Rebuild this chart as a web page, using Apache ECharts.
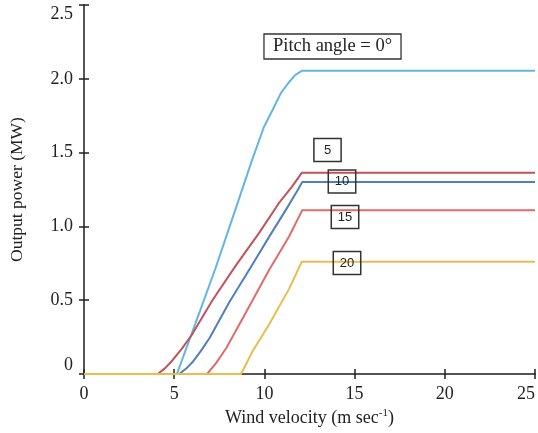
<!DOCTYPE html>
<html>
<head>
<meta charset="utf-8">
<script src="https://cdn.jsdelivr.net/npm/echarts@6/dist/echarts.min.js"></script>
<style>
html,body{margin:0;padding:0;background:#fff;}
#chart{width:538px;height:433px;}
</style>
</head>
<body>
<div id="chart"></div>
<script>
// ---- data (wind velocity in m/s, output power in MW) ----
const pitch0X  = [0, 5.15, 6.2,  7.3,  8.33, 9.32, 9.98, 10.5, 10.92, 11.35, 11.7, 12.07, 25];
const pitch0Y  = [0, 0,    0.35, 0.72, 1.092, 1.451, 1.675, 1.80, 1.905, 1.975, 2.025, 2.054, 2.054];
const pitch5X  = [0, 4.09, 4.5,  4.92, 5.45, 5.97, 7.12, 8.44, 9.71, 10.81, 11.52, 12.07, 25];
const pitch5Y  = [0, 0,    0.04, 0.095, 0.175, 0.264, 0.50, 0.739, 0.956, 1.159, 1.268, 1.363, 1.363];
const pitch10X = [0, 5.28, 5.65, 6.02, 6.5,  6.96, 8.06, 9.32, 10.26, 11.19, 11.80, 12.1, 25];
const pitch10Y = [0, 0,    0.035, 0.081, 0.16, 0.244, 0.488, 0.739, 0.929, 1.112, 1.237, 1.30, 1.30];
const pitch15X = [0, 6.82, 7.3,  7.89, 8.99, 10.26, 11.36, 12.1, 25];
const pitch15Y = [0, 0,    0.07, 0.176, 0.42, 0.705, 0.93, 1.11, 1.11];
const pitch20X = [0, 8.7,  9.0,  9.32, 10.26, 11.36, 12.07, 25];
const pitch20Y = [0, 0,    0.07, 0.149, 0.335, 0.575, 0.76, 0.76];

const seriesNames = ['0', '5', '10', '15', '20'];
const xTicks = [0, 5, 10, 15, 20, 25];
const yTicks = [0, 0.5, 1.0, 1.5, 2.0, 2.5];
const boxLabels = ['Pitch angle = 0°', '5', '10', '15', '20'];

const colors = ['#62b6e3', '#c4525a', '#4f80bd', '#e06b6b', '#e8bd4f'];
const xs = [pitch0X, pitch5X, pitch10X, pitch15X, pitch20X];
const ys = [pitch0Y, pitch5Y, pitch10Y, pitch15Y, pitch20Y];

const chart = echarts.init(document.getElementById('chart'), null, {renderer: 'canvas'});
const serif = '"Liberation Serif", "Times New Roman", serif';
const sans = '"Liberation Sans", Arial, sans-serif';
const axisColor = '#4a4a4a';

const series = seriesNames.map((n, i) => ({
  name: n,
  type: 'line',
  data: xs[i].map((x, k) => [x, ys[i][k]]),
  showSymbol: false,
  smooth: false,
  lineStyle: {color: colors[i], width: 2, join: 'round'},
  z: 2 + i,
  animation: false
}));

const boxCfg = [
  {x: 332.5, y: 46.5, font: '18.5px ' + serif, pad: [2, 9], lh: 21, bw: 1.3},
  {x: 327.5, y: 150, font: '13px ' + sans, pad: [4, 10], lh: 15, bw: 1.5},
  {x: 342, y: 181.5, font: '13px ' + sans, pad: [4, 6.5], lh: 15, bw: 1.5},
  {x: 345, y: 217, font: '13px ' + sans, pad: [4, 6.5], lh: 15, bw: 1.5},
  {x: 347, y: 263, font: '13px ' + sans, pad: [4, 6.5], lh: 15, bw: 1.5}
];

const graphics = boxLabels.map((t, i) => ({
  type: 'text',
  x: boxCfg[i].x,
  y: boxCfg[i].y,
  z: 100,
  style: {
    text: t,
    font: boxCfg[i].font,
    fill: '#222',
    align: 'center',
    verticalAlign: 'middle',
    lineHeight: boxCfg[i].lh,
    padding: boxCfg[i].pad,
    borderColor: '#333',
    borderWidth: boxCfg[i].bw
  }
}));

chart.setOption({
  animation: false,
  backgroundColor: '#fff',
  grid: {left: 83.6, right: 1, top: 5, bottom: 59},
  xAxis: [{
    type: 'value', min: xTicks[0], max: xTicks[xTicks.length - 1], interval: 5,
    name: '{a|Wind velocity (m sec}{s|-1}{a|)}',
    nameLocation: 'middle', nameGap: 33,
    nameTextStyle: {
      rich: {
        a: {fontFamily: serif, fontSize: 18, color: '#222'},
        s: {fontFamily: serif, fontSize: 11, color: '#222', verticalAlign: 'top', padding: [0, 0, 9, 0]}
      }
    },
    axisLine: {show: true, lineStyle: {color: axisColor, width: 1.5}},
    axisTick: {show: true, inside: true, length: 5, lineStyle: {color: '#222', width: 1.5}},
    axisLabel: {fontFamily: serif, fontSize: 18, color: '#222', margin: 11, alignMaxLabel: 'right'},
    splitLine: {show: false}
  }, {
    type: 'value', position: 'top', min: 0, max: 25, interval: 5,
    axisLine: {show: true, lineStyle: {color: axisColor, width: 1.5}},
    axisTick: {show: true, inside: true, length: 5, lineStyle: {color: '#222', width: 1.5}},
    axisLabel: {show: false}, splitLine: {show: false}
  }],
  yAxis: [{
    type: 'value', min: yTicks[0], max: yTicks[yTicks.length - 1], interval: 0.5,
    name: 'Output power (MW)',
    nameLocation: 'middle', nameGap: 58, nameRotate: 90,
    nameTextStyle: {fontFamily: serif, fontSize: 17.5, color: '#222'},
    axisLine: {show: true, lineStyle: {color: axisColor, width: 1.5}},
    axisTick: {show: true, inside: true, length: 5, lineStyle: {color: '#222', width: 1.5}},
    axisLabel: {
      fontFamily: serif, fontSize: 18, color: '#222', margin: 11,
      verticalAlignMaxLabel: 'top', verticalAlignMinLabel: 'bottom',
      formatter: v => v === 0 ? '0' : v.toFixed(1)
    },
    splitLine: {show: false}
  }, {
    type: 'value', position: 'right', min: 0, max: 2.5, interval: 0.5,
    axisLine: {show: true, lineStyle: {color: axisColor, width: 1.5}},
    axisTick: {show: true, inside: true, length: 5, lineStyle: {color: '#222', width: 1.5}},
    axisLabel: {show: false}, splitLine: {show: false}
  }],
  series: series,
  graphic: graphics
});
</script>
</body>
</html>
